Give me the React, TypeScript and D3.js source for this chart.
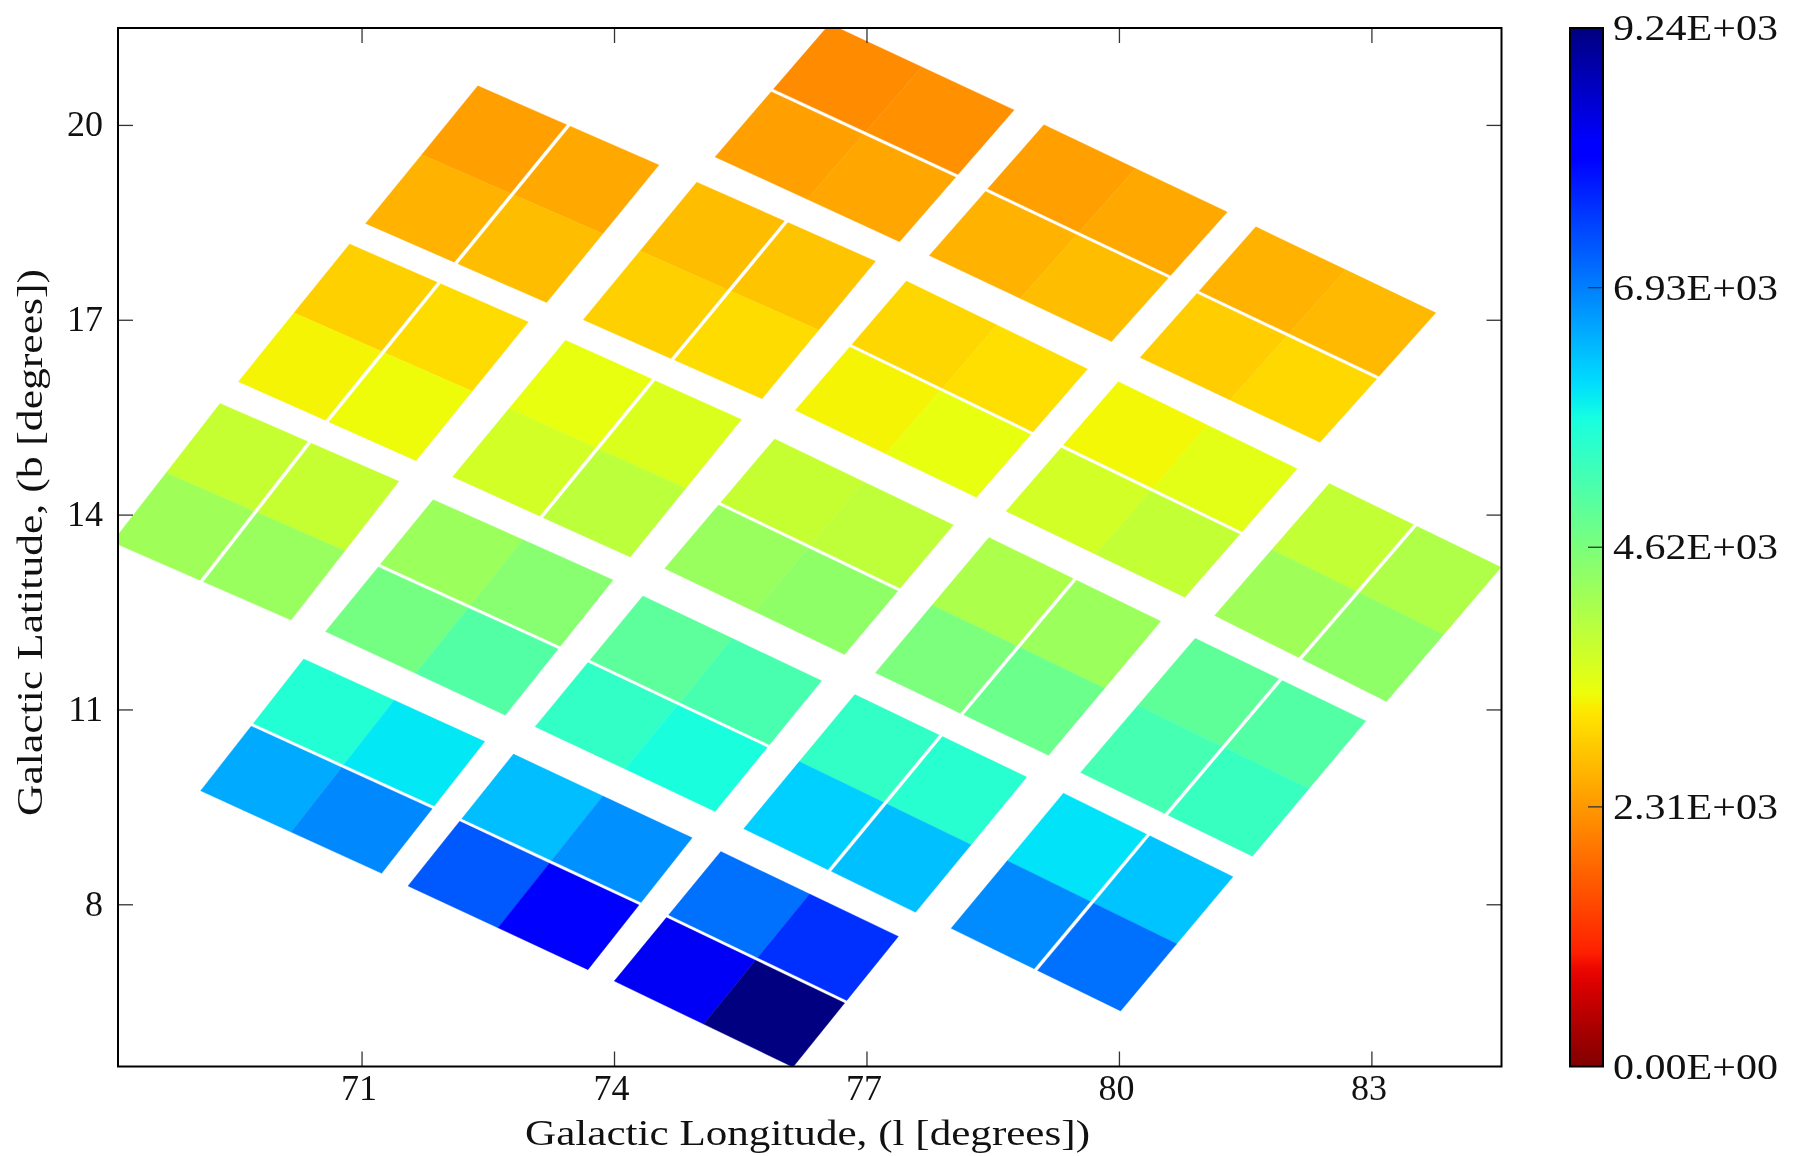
import React from "react";
import * as d3 from "d3";

// Module corners in galactic coordinates, order: top, right, bottom, left corner
const moduleLon: number[][] = [
  [72.376, 74.528, 73.193, 71.042],
  [76.556, 78.748, 77.387, 75.195],
  [79.102, 81.281, 79.906, 77.741],
  [81.621, 83.759, 82.383, 80.246],
  [70.852, 72.976, 71.641, 69.531],
  [74.977, 77.101, 75.753, 73.629],
  [77.468, 79.62, 78.299, 76.148],
  [79.987, 82.111, 80.777, 78.653],
  [69.313, 71.437, 70.157, 68.033],
  [73.418, 75.508, 74.187, 72.077],
  [75.903, 78.027, 76.733, 74.596],
  [78.449, 80.491, 79.157, 77.101],
  [82.493, 84.535, 83.173, 81.131],
  [71.845, 73.983, 72.703, 70.566],
  [74.337, 76.461, 75.195, 73.057],
  [76.856, 78.898, 77.577, 75.535],
  [80.9, 82.928, 81.58, 79.538],
  [70.307, 72.458, 71.233, 69.082],
  [72.799, 74.923, 73.684, 71.546],
  [75.263, 77.373, 76.121, 73.997],
  [79.334, 81.349, 80.014, 78.0],
];
const moduleLat: number[][] = [
  [20.609, 19.391, 17.273, 18.491],
  [21.562, 20.238, 18.209, 19.515],
  [20.009, 18.667, 16.673, 17.997],
  [18.438, 17.114, 15.12, 16.426],
  [18.173, 16.973, 14.838, 16.055],
  [19.126, 17.909, 15.791, 17.009],
  [17.603, 16.25, 14.273, 15.614],
  [16.055, 14.714, 12.737, 14.061],
  [15.72, 14.52, 12.384, 13.585],
  [16.691, 15.473, 13.355, 14.591],
  [15.173, 13.849, 11.855, 13.179],
  [13.655, 12.367, 10.302, 11.573],
  [14.485, 13.196, 11.131, 12.455],
  [14.238, 13.002, 10.92, 12.208],
  [12.755, 11.449, 9.437, 10.743],
  [11.237, 9.967, 7.884, 9.172],
  [12.102, 10.831, 8.749, 10.037],
  [11.785, 10.514, 8.484, 9.755],
  [10.32, 9.031, 7.001, 8.29],
  [8.82, 7.513, 5.501, 6.825],
  [9.719, 8.431, 6.366, 7.637],
];
// Which way the gap between the two CCDs of a module runs
const moduleSplit: string[] = [
  "V", "H", "H", "H", "V", "V", "H", "H", "V", "V", "H", "V", "V", "H", "H", "V", "V", "H", "H", "H", "V",
];
// Channel counts, order: top, right, left, bottom quadrant
const channelValues: number[][] = [
  [2397, 2495, 2593, 2710],
  [2182, 2231, 2397, 2477],
  [2397, 2495, 2593, 2710],
  [2593, 2670, 2887, 3004],
  [2915, 3041, 3264, 3310],
  [2710, 2788, 2915, 3041],
  [2994, 3072, 3264, 3377],
  [3287, 3446, 3626, 3803],
  [3760, 3760, 4210, 4276],
  [3377, 3534, 3626, 3872],
  [3760, 3849, 4276, 4388],
  [4053, 4253, 4614, 4803],
  [3803, 4029, 4210, 4388],
  [4253, 4480, 4703, 5082],
  [4971, 5198, 5467, 5736],
  [5467, 5579, 6200, 6346],
  [4949, 5082, 5241, 5396],
  [5625, 5983, 6545, 6854],
  [6364, 6780, 7288, 8150],
  [7071, 7651, 8288, 9240],
  [6020, 6309, 6817, 7071],
];
const xTicks = [71, 74, 77, 80, 83];
const yTicks = [20, 17, 14, 11, 8];
const barTicks = [0, 2310, 4620, 6930, 9240];
const barLabels = ["0.00E+00", "2.31E+03", "4.62E+03", "6.93E+03", "9.24E+03"];
const jetStops: [number, string][] = [
  [0, "#000080"], [0.11, "#0000ff"], [0.125, "#0000ff"], [0.34, "#00dbff"], [0.35, "#00e5f7"],
  [0.375, "#16ffe1"], [0.64, "#ecff0b"], [0.65, "#faef00"], [0.66, "#ffe500"], [0.89, "#ff2000"],
  [0.91, "#e60000"], [1, "#800000"],
];

const W = 1797, H = 1156;
const left = 118, right = 1501.5, top = 28, bottom = 1066.5;
const barL = 1570, barR = 1603;
const FONT = "'Liberation Serif', serif";

const x = d3.scaleLinear().domain([68.1, 84.54]).range([left, right]);
const y = d3.scaleLinear().domain([5.51, 21.5]).range([bottom, top]);
const barY = d3.scaleLinear().domain([0, 9240]).range([bottom, top]);
const jet = d3
  .scaleLinear<string>()
  .domain(jetStops.map((s) => s[0]))
  .range(jetStops.map((s) => s[1]))
  .interpolate(d3.interpolateRgb.gamma(1) as any);
const colorOf = (v: number) => jet(1 - v / 9240);

const GAP = 0.01;
const line = d3.line<[number, number]>().x((d) => x(d[0])).y((d) => y(d[1]));

function cellPath(m: number, u0: number, u1: number, v0: number, v1: number) {
  const P = (u: number, v: number): [number, number] => {
    const mix = (a: number[]) =>
      a[0] * (1 - u) * (1 - v) + a[1] * u * (1 - v) + a[3] * (1 - u) * v + a[2] * u * v;
    return [mix(moduleLon[m]), mix(moduleLat[m])];
  };
  return line([P(u0, v0), P(u1, v0), P(u1, v1), P(u0, v1)]) + "Z";
}

function cells() {
  const out: { d: string; fill: string; key: string }[] = [];
  moduleLon.forEach((_, m) => {
    const gu = moduleSplit[m] === "V" ? GAP : 0;
    const gv = moduleSplit[m] === "H" ? GAP : 0;
    const quads = [
      [0, 0.5 - gu, 0, 0.5 - gv],
      [0.5 + gu, 1, 0, 0.5 - gv],
      [0, 0.5 - gu, 0.5 + gv, 1],
      [0.5 + gu, 1, 0.5 + gv, 1],
    ];
    quads.forEach((q, i) =>
      out.push({
        key: `${m}-${i}`,
        d: cellPath(m, q[0], q[1], q[2], q[3]),
        fill: colorOf(channelValues[m][i]),
      })
    );
  });
  return out;
}

export default function App() {
  const tickColor = "#333";
  const gradStops = d3.range(0, 65).map((i) => i / 64);
  return (
    <svg
      width={W}
      height={H}
      viewBox={`0 0 ${W} ${H}`}
      style={{ position: "absolute", left: 0, top: 0, background: "#fff", filter: "blur(0.5px)" }}
    >
      <defs>
        <clipPath id="plot">
          <rect x={left} y={top} width={right - left} height={bottom - top} />
        </clipPath>
        <linearGradient id="jetbar" x1="0" y1="1" x2="0" y2="0">
          {gradStops.map((t) => (
            <stop key={t} offset={t} stopColor={jet(1 - t)} />
          ))}
        </linearGradient>
      </defs>

      <g clipPath="url(#plot)">
        {cells().map((c) => (
          <path key={c.key} d={c.d} fill={c.fill} stroke={c.fill} strokeWidth={0.4} />
        ))}
      </g>

      {xTicks.map((t) => (
        <g key={t}>
          <line x1={x(t)} x2={x(t)} y1={bottom} y2={bottom - 15} stroke={tickColor} strokeWidth={1.3} />
          <line x1={x(t)} x2={x(t)} y1={top} y2={top + 15} stroke={tickColor} strokeWidth={1.3} />
          <text x={x(t) - 3} y={1100} textAnchor="middle" fontFamily={FONT} fontSize={36} fill="#111">
            {t}
          </text>
        </g>
      ))}
      {yTicks.map((t) => (
        <g key={t}>
          <line x1={left} x2={left + 15} y1={y(t)} y2={y(t)} stroke={tickColor} strokeWidth={1.3} />
          <line x1={right} x2={right - 15} y1={y(t)} y2={y(t)} stroke={tickColor} strokeWidth={1.3} />
          <text x={103} y={y(t) + 11} textAnchor="end" fontFamily={FONT} fontSize={36} fill="#111">
            {t}
          </text>
        </g>
      ))}
      <rect x={left} y={top} width={right - left} height={bottom - top} fill="none" stroke="#000" strokeWidth={2} />

      <text
        x={525}
        y={1145}
        textLength={565}
        lengthAdjust="spacingAndGlyphs"
        fontFamily={FONT}
        fontSize={36}
        fill="#111"
      >
        Galactic Longitude, (l [degrees])
      </text>
      <text
        transform={`translate(42,816) rotate(-90)`}
        textLength={547}
        lengthAdjust="spacingAndGlyphs"
        fontFamily={FONT}
        fontSize={36}
        fill="#111"
      >
        Galactic Latitude, (b [degrees])
      </text>

      <rect x={barL} y={top} width={barR - barL} height={bottom - top} fill="url(#jetbar)" />
      {barTicks.slice(1, -1).map((t) => (
        <line key={t} x1={barR} x2={barR - 15} y1={barY(t)} y2={barY(t)} stroke={tickColor} strokeWidth={1.3} />
      ))}
      <rect x={barL} y={top} width={barR - barL} height={bottom - top} fill="none" stroke="#000" strokeWidth={2} />
      {barTicks.map((t, i) => (
        <text
          key={t}
          x={1613}
          y={barY(t) + 12}
          textLength={165}
          lengthAdjust="spacingAndGlyphs"
          fontFamily={FONT}
          fontSize={36}
          fill="#111"
        >
          {barLabels[i]}
        </text>
      ))}
    </svg>
  );
}
